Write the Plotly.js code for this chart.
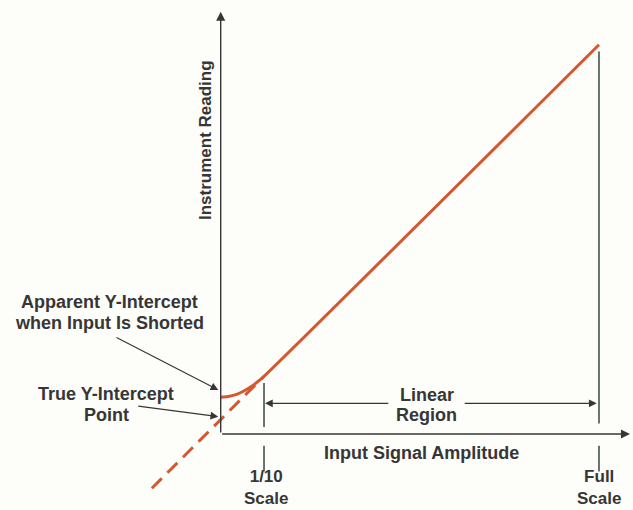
<!DOCTYPE html>
<html>
<head>
<meta charset="utf-8">
<script src="https://cdn.plot.ly/plotly-3.0.1.min.js"></script>
<style>html,body{margin:0;padding:0;background:#fdfdfa;}#chart{width:633px;height:510px;}</style>
</head>
<body>
<div id="chart"></div>
<script>
// Instrument response (x = input as fraction of full scale, y = reading)
const curveX = [0, 0.02, 0.04, 0.06, 0.08, 0.10, 0.114, 1.0];
const curveY = [0.097, 0.099, 0.104, 0.113, 0.125, 0.140, 0.152, 1.029];
// Extrapolated straight line through the true Y-intercept
const dashX = [-0.182, 0.114];
const dashY = [-0.1435, 0.152];
// Scale marks
const markX = [0.1145, 1.0];
const markLabels = ["1/10<br>Scale", "Full<br>Scale"];

const red = '#d5572f';
const ink = '#363636';
const markColor = '#38473f';
const font = {family: 'Liberation Sans, Arial, sans-serif', size: 18, color: ink, weight: 'bold'};
const smallFont = Object.assign({}, font, {size: 17});

const traces = [
  {x: dashX, y: dashY, mode: 'lines', line: {color: red, width: 3, dash: '14px,8px'}, hoverinfo: 'skip'},
  {x: curveX, y: curveY, mode: 'lines', line: {color: red, width: 3, shape: 'spline', smoothing: 0.7}, hoverinfo: 'skip'}
];

const shapes = [];
shapes.push({type: 'line', xref: 'x', yref: 'y', x0: markX[0], x1: markX[0], y0: 0.0185, y1: 0.135, line: {color: markColor, width: 1.5}});
shapes.push({type: 'line', xref: 'x', yref: 'y', x0: markX[1], x1: markX[1], y0: 0.028, y1: 1.011, line: {color: markColor, width: 1.5}});
markX.forEach(function (mx) {
  shapes.push({type: 'line', xref: 'x', yref: 'y', x0: mx, x1: mx, y0: -0.031, y1: -0.099, line: {color: markColor, width: 1.5}});
});

function arrow(hx, hy, tx, ty, extra) {
  return Object.assign({
    x: hx, y: hy, ax: tx, ay: ty, xref: 'x', yref: 'y', axref: 'x', ayref: 'y',
    text: '', showarrow: true, arrowhead: 2, arrowsize: 1.3, arrowwidth: 1.4, arrowcolor: ink, standoff: 0
  }, extra || {});
}
function label(x, y, text, extra) {
  return Object.assign({x: x, y: y, xref: 'x', yref: 'y', text: text, showarrow: false, font: font, borderpad: 0}, extra || {});
}

const annotations = [
  arrow(0, 1.1163, 0, 0),
  arrow(1.082, 0, 0, 0),
  arrow(-0.0063, 0.1163, -0.2794, 0.2572, {arrowwidth: 1.2}),
  arrow(-0.0063, 0.0457, -0.222, 0.074, {arrowwidth: 1.2}),
  arrow(0.117, 0.081, 0.447, 0.081, {arrowwidth: 1.2}),
  arrow(0.994, 0.081, 0.641, 0.081, {arrowwidth: 1.2}),
  label(-0.293, 0.349, 'Apparent Y-Intercept'),
  label(-0.293, 0.293, 'when Input Is Shorted'),
  label(-0.303, 0.106, 'True Y-Intercept'),
  label(-0.301, 0.050, 'Point'),
  label(0.5445, 0.103, 'Linear'),
  label(0.5445, 0.050, 'Region'),
  label(0.531, -0.051, 'Input Signal Amplitude'),
  label(0.12, -0.1985, markLabels[0], {font: smallFont, yanchor: 'bottom', align: 'center'}),
  label(markX[1], -0.1985, markLabels[1], {font: smallFont, yanchor: 'bottom', align: 'center'}),
  label(-0.0415, 0.777, 'Instrument Reading', {textangle: -90, font: smallFont})
];

const layout = {
  width: 633, height: 510,
  margin: {l: 0, r: 0, t: 0, b: 0},
  paper_bgcolor: '#fdfdfa', plot_bgcolor: '#fdfdfa',
  showlegend: false,
  xaxis: {range: [-0.5834, 1.0899], visible: false, fixedrange: true},
  yaxis: {range: [-0.2009, 1.1472], visible: false, fixedrange: true},
  shapes: shapes,
  annotations: annotations
};

Plotly.newPlot('chart', traces, layout, {displayModeBar: false, staticPlot: true});
</script>
</body>
</html>
